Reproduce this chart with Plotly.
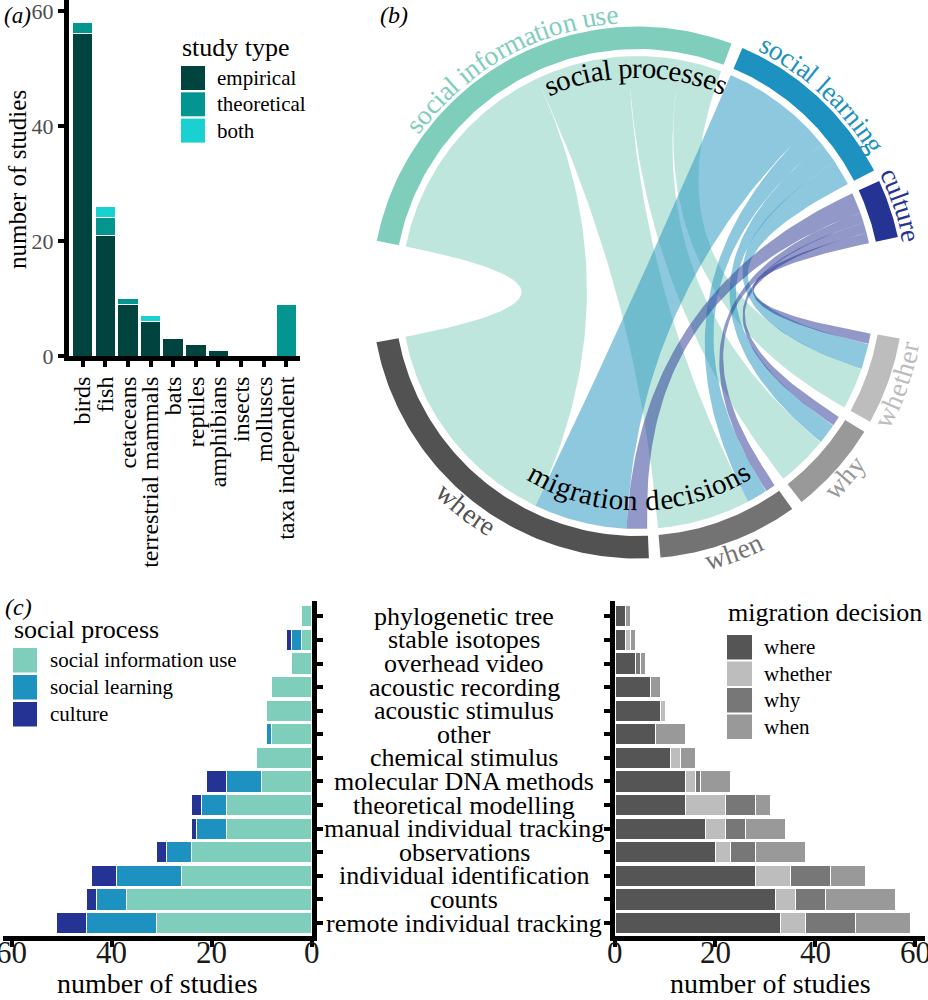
import numpy as np
import plotly.graph_objects as go

FONT = "Liberation Serif"
W, H = 928, 1000

# ---------------- data: panel (a) ----------------
taxa = ["birds", "fish", "cetaceans", "terrestrial mammals", "bats", "reptiles",
        "amphibians", "insects", "molluscs", "taxa independent"]
study_empirical = [56, 21, 9, 6, 3, 2, 1, 0, 0, 0]
study_theoretical = [2, 3, 1, 0, 0, 0, 0, 0, 0, 9]
study_both = [0, 2, 0, 1, 0, 0, 0, 0, 0, 0]
study_types = ["empirical", "theoretical", "both"]

# ---------------- data: panel (b) chord ----------------
processes = ["social information use", "social learning", "culture"]
decisions = ["whether", "why", "when", "where"]          # clockwise order
links_siu = [8, 10, 18, 42]       # SIU -> whether, why, when, where
links_sl = [5, 4, 4, 18]
links_culture = [2, 2, 2, 4]

# ---------------- data: panel (c) ----------------
methods = ["phylogenetic tree", "stable isotopes", "overhead video", "acoustic recording",
           "acoustic stimulus", "other", "chemical stimulus", "molecular DNA methods",
           "theoretical modelling", "manual individual tracking", "observations",
           "individual identification", "counts", "remote individual tracking"]
c_siu = [2, 2, 4, 8, 9, 8, 11, 10, 17, 17, 24, 26, 37, 31]
c_sl = [0, 2, 0, 0, 0, 1, 0, 7, 5, 6, 5, 13, 6, 14]
c_culture = [0, 1, 0, 0, 0, 0, 0, 4, 2, 1, 2, 5, 2, 6]
c_where = [2, 2, 4, 7, 9, 8, 11, 14, 14, 18, 20, 28, 32, 33]
c_whether = [0, 1, 0, 0, 1, 0, 2, 2, 8, 4, 3, 7, 4, 5]
c_why = [0, 0, 1, 0, 0, 0, 0, 1, 6, 4, 5, 8, 6, 10]
c_when = [1, 1, 1, 2, 0, 6, 3, 6, 3, 8, 10, 7, 14, 11]
decision_legend = ["where", "whether", "why", "when"]
x_ticks = [0, 20, 40, 60]

# ---------------- styles ----------------
COL_A = ["#01433f", "#03958f", "#1ad1d1"]
COL_PROC = ["#7fcdbb", "#1d91c0", "#253494"]
COL_DEC_CHORD = ["#bdbdbd", "#999999", "#737373", "#525252"]
COL_DEC_BAR = {"where": "#555555", "whether": "#bdbdbd", "why": "#777777", "when": "#999999"}


def px(x):
    return x / W


def py(y):
    return 1 - y / H


def rgba(hexc, a):
    h = hexc.lstrip("#")
    return "rgba(%d,%d,%d,%.2f)" % (int(h[0:2], 16), int(h[2:4], 16), int(h[4:6], 16), a)


fig = go.Figure()
bar_line = dict(color="white", width=1)

# ---------------- panel (a) ----------------
for vals, col in zip([study_empirical, study_theoretical, study_both], COL_A):
    fig.add_trace(go.Bar(x=taxa, y=vals, marker=dict(color=col, line=bar_line), width=0.9,
                         xaxis="x", yaxis="y", hoverinfo="skip", showlegend=False))

# ---------------- panel (c) ----------------
for vals, col in zip([c_siu, c_sl, c_culture], COL_PROC):
    fig.add_trace(go.Bar(y=methods, x=vals, orientation="h", width=0.9,
                         marker=dict(color=col, line=bar_line),
                         xaxis="x4", yaxis="y4", hoverinfo="skip", showlegend=False))
for name, vals in zip(["where", "whether", "why", "when"], [c_where, c_whether, c_why, c_when]):
    fig.add_trace(go.Bar(y=methods, x=vals, orientation="h", width=0.9,
                         marker=dict(color=COL_DEC_BAR[name], line=bar_line),
                         xaxis="x5", yaxis="y5", hoverinfo="skip", showlegend=False))

# ---------------- panel (b) chord ----------------
M = np.array([links_siu, links_sl, links_culture], dtype=float)
proc_tot = M.sum(axis=1)
dec_tot = M.sum(axis=0)
N = M.sum()
START = 168.8
SMALL = 2.5
BIG = 22.0
unit = (360 - 2 * BIG - 5 * SMALL) / (2 * N)
R_OUT, R_IN, R_LINK = 266.0, 243.5, 236.5

a = START
proc_span = []
for i in range(len(processes)):
    s, e = a, a - proc_tot[i] * unit
    proc_span.append((s, e))
    a = e - (SMALL if i < len(processes) - 1 else BIG)
dec_span = []
for j in range(len(decisions)):
    s, e = a, a - dec_tot[j] * unit
    dec_span.append((s, e))
    a = e - (SMALL if j < len(decisions) - 1 else BIG)

proc_pos = {}
for i in range(len(processes)):
    a = proc_span[i][0]
    for j in reversed(range(len(decisions))):
        w = M[i, j] * unit
        proc_pos[(i, j)] = (a, a - w)
        a -= w
dec_pos = {}
for j in range(len(decisions)):
    a = dec_span[j][0]
    for i in reversed(range(len(processes))):
        w = M[i, j] * unit
        dec_pos[(i, j)] = (a, a - w)
        a -= w


def arc(r, a0, a1, n=80):
    t = np.radians(np.linspace(a0, a1, n))
    return r * np.cos(t), r * np.sin(t)


def bez(p0, p2, n=60):
    t = np.linspace(0, 1, n)
    x = (1 - t) ** 2 * p0[0] + t ** 2 * p2[0]
    y = (1 - t) ** 2 * p0[1] + t ** 2 * p2[1]
    return x, y


def pt(r, ang):
    return (r * np.cos(np.radians(ang)), r * np.sin(np.radians(ang)))


for i in range(len(processes)):
    for j in range(len(decisions)):
        if M[i, j] <= 0:
            continue
        pa1, pa2 = proc_pos[(i, j)]
        db1, db2 = dec_pos[(i, j)]
        xs, ys = [], []
        for seg in (arc(R_LINK, pa1, pa2), bez(pt(R_LINK, pa2), pt(R_LINK, db1)),
                    arc(R_LINK, db1, db2), bez(pt(R_LINK, db2), pt(R_LINK, pa1))):
            xs.extend(seg[0]); ys.extend(seg[1])
        fig.add_trace(go.Scatter(x=xs, y=ys, mode="lines", fill="toself",
                                 fillcolor=rgba(COL_PROC[i], 0.5), line=dict(width=0),
                                 xaxis="x3", yaxis="y3", hoverinfo="skip", showlegend=False))


def ring(s, e, col):
    xo, yo = arc(R_OUT, s, e)
    xi, yi = arc(R_IN, e, s)
    fig.add_trace(go.Scatter(x=list(xo) + list(xi), y=list(yo) + list(yi), mode="lines",
                             fill="toself", fillcolor=col, line=dict(width=0),
                             xaxis="x3", yaxis="y3", hoverinfo="skip", showlegend=False))


for i in range(len(processes)):
    ring(proc_span[i][0], proc_span[i][1], COL_PROC[i])
for j in range(len(decisions)):
    ring(dec_span[j][0], dec_span[j][1], COL_DEC_CHORD[j])

# ---------------- curved text ----------------
TW = {'a': 444, 'b': 500, 'c': 444, 'd': 500, 'e': 444, 'f': 333, 'g': 500, 'h': 500,
      'i': 278, 'j': 278, 'k': 500, 'l': 278, 'm': 778, 'n': 500, 'o': 500, 'p': 500,
      'q': 500, 'r': 333, 's': 389, 't': 278, 'u': 500, 'v': 500, 'w': 722, 'x': 500,
      'y': 500, 'z': 444, ' ': 250}

annotations = []


def arc_text(text, theta_c, r, size, color, bottom_in=True):
    widths = [TW.get(c, 500) / 1000.0 * size for c in text]
    total = sum(widths)
    cum = 0.0
    for c, w in zip(text, widths):
        mid = cum + w / 2
        cum += w
        if c == " ":
            continue
        if bottom_in:
            th = theta_c + np.degrees((total / 2 - mid) / r)
            rot = 90 - th
        else:
            th = theta_c - np.degrees((total / 2 - mid) / r)
            rot = -(th + 90)
        annotations.append(dict(x=r * np.cos(np.radians(th)), y=r * np.sin(np.radians(th)),
                                xref="x3", yref="y3", text=c, textangle=rot, showarrow=False,
                                xanchor="center", yanchor="middle",
                                font=dict(family=FONT, size=size, color=color)))


for i, name in enumerate(processes):
    arc_text(name, (proc_span[i][0] + proc_span[i][1]) / 2, 279, 27.5, COL_PROC[i], True)
for j, name in enumerate(decisions):
    arc_text(name, (dec_span[j][0] + dec_span[j][1]) / 2, 277, 27.5, COL_DEC_CHORD[j], False)
arc_text("social processes", (proc_span[0][0] + proc_span[-1][1]) / 2, 225, 29, "black", True)
arc_text("migration decisions", (dec_span[0][0] + dec_span[-1][1]) / 2, 208, 29, "black", False)

# ---------------- other annotations ----------------
def txt(x, y, s, size, color="black", xanchor="left", angle=0, italic=False):
    annotations.append(dict(x=px(x), y=py(y), xref="paper", yref="paper", text=s,
                            showarrow=False, xanchor=xanchor, yanchor="middle", textangle=angle,
                            font=dict(family=FONT, size=size, color=color,
                                      style="italic" if italic else "normal")))


shapes = []


def swatch(x0, y0, x1, y1, col):
    shapes.append(dict(type="rect", xref="paper", yref="paper", x0=px(x0), x1=px(x1),
                       y0=py(y1), y1=py(y0), fillcolor=col, line=dict(width=0)))


txt(2, 15, "(a)", 23, italic=True)
txt(378, 15, "(b)", 24, italic=True)
txt(3, 607, "(c)", 24, italic=True)

txt(18, 180, "number of studies", 25, xanchor="center", angle=-90)

# legend (a)
txt(180, 47, "study type", 26)
for k, (lab, col) in enumerate(zip(study_types, COL_A)):
    y0 = 66 + k * 26.3
    swatch(181, y0, 205, y0 + 24, col)
    txt(215, y0 + 12, lab, 21)

# legend (c) left
txt(12, 629, "social process", 26)
for k, (lab, col) in enumerate(zip(processes, COL_PROC)):
    y0 = 648 + k * 27
    swatch(13, y0, 37, y0 + 24.5, col)
    txt(48, y0 + 12, lab, 21)

# legend (c) right
txt(726, 612, "migration decision", 26)
for k, lab in enumerate(decision_legend):
    y0 = 635 + k * 26.5
    swatch(727, y0, 752, y0 + 24.5, COL_DEC_BAR[lab])
    txt(762, y0 + 12, lab, 21)

# middle method labels
for k, m in enumerate(methods):
    annotations.append(dict(x=px(464), y=k, xref="paper", yref="y4", text=m, showarrow=False,
                            xanchor="center", yanchor="middle",
                            font=dict(family=FONT, size=26, color="black")))

# x tick labels for panel (c)
for xr in ("x4", "x5"):
    for v in x_ticks:
        annotations.append(dict(x=v, y=py(952), xref=xr, yref="paper", text=str(v),
                                showarrow=False, xanchor="center", yanchor="middle",
                                font=dict(family=FONT, size=31, color="#1a1a1a")))

txt(157, 983, "number of studies", 28, xanchor="center")
txt(770, 983, "number of studies", 28, xanchor="center")

# ---------------- axes ----------------
ax = dict(showgrid=False, zeroline=False, showline=True, linecolor="black", linewidth=5,
          ticks="outside", tickcolor="black", tickwidth=4, ticklen=6, automargin=False,
          fixedrange=True, ticklabeloverflow="allow")

fig.update_layout(
    width=W, height=H, margin=dict(l=0, r=0, t=0, b=0),
    plot_bgcolor="white", paper_bgcolor="white", barmode="stack", showlegend=False,
    font=dict(family=FONT),
    xaxis=dict(ax, domain=[px(69), px(300)], type="category", categoryorder="array",
               categoryarray=taxa, range=[-0.6, len(taxa) - 0.4], tickangle=-90,
               tickmode="array", tickvals=taxa, ticktext=taxa,
               tickfont=dict(family=FONT, size=24, color="black"), anchor="y"),
    yaxis=dict(ax, domain=[py(356), 1], range=[0, 61.9], tickvals=x_ticks,
               tickfont=dict(family=FONT, size=22, color="#4d4d4d"), anchor="x"),
    xaxis3=dict(visible=False, domain=[0.38, 1.0], range=[0.38 * W - 637.7, W - 637.7],
                fixedrange=True),
    yaxis3=dict(visible=False, domain=[0.41, 1.0], range=[292.5 - 590, 292.5],
                fixedrange=True),
    xaxis4=dict(ax, domain=[px(3), px(311.7)], range=[61.8, 0], tickvals=x_ticks,
                showticklabels=False, anchor="y4"),
    yaxis4=dict(ax, domain=[py(936), py(601)], type="category", categoryorder="array",
                categoryarray=methods, range=[len(methods) - 0.45, -0.65], side="right",
                showticklabels=False, dtick=1, anchor="x4"),
    xaxis5=dict(ax, domain=[px(615), px(925)], range=[0, 62], tickvals=x_ticks,
                showticklabels=False, anchor="y5"),
    yaxis5=dict(ax, domain=[py(936), py(601)], type="category", categoryorder="array",
                categoryarray=methods, range=[len(methods) - 0.45, -0.65], side="left",
                showticklabels=False, dtick=1, anchor="x5"),
    annotations=annotations,
    shapes=shapes,
)

fig.write_html("out.html", config={"displayModeBar": False},
               post_script="document.body.style.margin='0';document.body.style.padding='0';"
                           "document.documentElement.style.overflow='hidden';")
